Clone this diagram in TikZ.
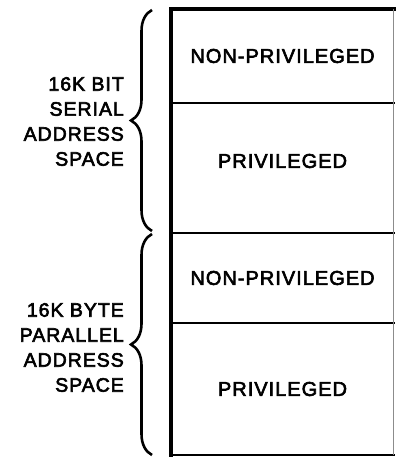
\documentclass[tikz,border=0pt]{standalone}
\usepackage{fontspec}
\setmainfont{Liberation Sans}[FakeBold=3, LetterSpace=5]
\usetikzlibrary{positioning, decorations.pathreplacing}

\begin{document}
\begin{tikzpicture}[
  x=1pt, y=1pt,
  node distance=0pt,
  seg/.style={minimum width=223pt, inner sep=0pt, outer sep=0pt,
              font=\fontsize{20}{24}\selectfont},
  lbl/.style={align=right, inner sep=0pt, font=\fontsize{19.5}{25}\selectfont},
  edge/.style={line width=2.4pt, line cap=rect},
  bigbrace/.style={decorate, decoration={brace, amplitude=21pt}, line width=2.6pt},
]
\useasboundingbox (0,0) rectangle (396,457);

% memory map (top to bottom)
\node[seg, minimum height=94pt, anchor=north west] (np1) at (171,448) {NON-PRIVILEGED};
\node[seg, minimum height=130pt, below=of np1,
      label={[seg, yshift=7pt]center:PRIVILEGED}] (pv1) {};
\node[seg, minimum height=90pt, below=of pv1] (np2) {NON-PRIVILEGED};
\node[seg, minimum height=132pt, below=of np2] (pv2) {PRIVILEGED};

% outline
\draw[edge, line width=3.8pt] (np1.north west) -- (pv2.south west);
\draw[edge, line width=3.2pt] (np1.north west) -- (np1.north east);
\draw[edge] (np1.south west) -- (np1.south east);
\draw[edge] (pv1.south west) -- (pv1.south east);
\draw[edge] (np2.south west) -- (np2.south east);
\draw[edge] (pv2.south west) -- (pv2.south east);
\draw[line width=0.8pt, black!45] ([xshift=-1pt]np1.north east) -- ([xshift=-1pt]pv2.south east);

% braces
\draw[bigbrace] (152,226) -- (152,447) coordinate[pos=0.5] (mid1);
\draw[bigbrace] (152,2) -- (152,223) coordinate[pos=0.5] (mid2);
\coordinate (tip1) at ([xshift=-22pt]mid1);
\coordinate (tip2) at ([xshift=-22pt]mid2);

% labels
\node[lbl, left=6pt of tip1, yshift=-1pt] (serial) {16K BIT\\SERIAL\\ADDRESS\\SPACE};
\node[lbl, left=6pt of tip2, yshift=-3pt] (parallel) {16K BYTE\\PARALLEL\\ADDRESS\\SPACE};
\end{tikzpicture}
\end{document}
